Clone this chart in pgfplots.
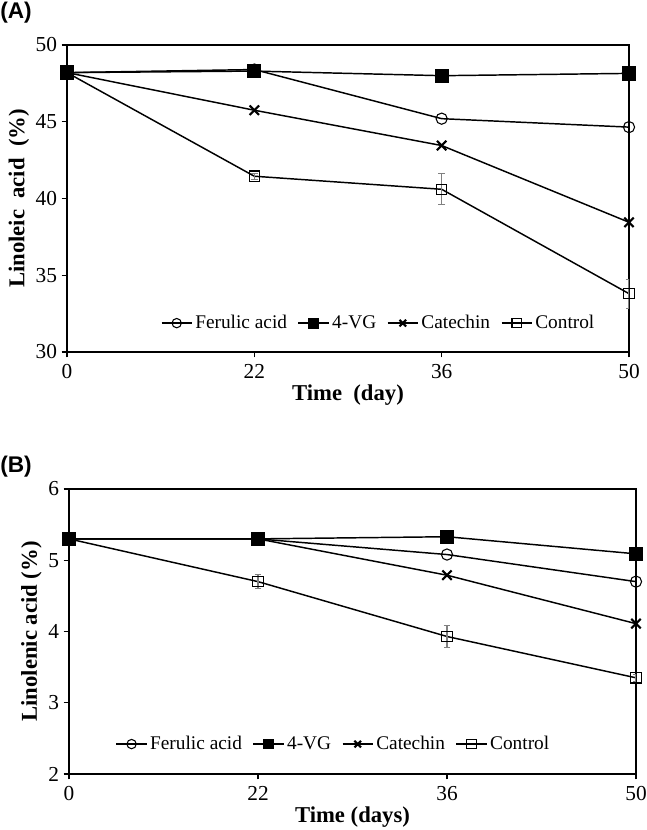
\documentclass[border=0pt]{standalone}
\usepackage{fontspec}
\setmainfont{Liberation Serif}
\newfontfamily\arialbf{Liberation Sans}[BoldFont=* Bold]
\usepackage{pgfplots}
\pgfplotsset{compat=1.18}

\pgfplotsset{
  panel/.style={
    scale only axis,
    axis line style={line width=1.1pt},
    xmin=0, xmax=3, xtick={0,1,2,3}, xticklabels={0,22,36,50},
    tick align=outside, tick pos=left,
    major tick length=4pt,
    tick style={line width=1pt, black},
    /pgf/number format/assume math mode=true,
    tick label style={font=\fontsize{16}{18}\selectfont},
    xticklabel style={yshift=-2pt},
    label style={font=\fontsize{17}{19}\selectfont\bfseries},
    xlabel style={yshift=2.5pt},
    ylabel style={yshift=-2pt},
    legend style={draw=none, fill=none, legend columns=4,
      font=\fontsize{14.5}{16}\selectfont,
      /tikz/every even column/.append style={column sep=6pt},
      inner sep=0pt},
    legend image code/.code={%
      \draw[mark repeat=2,mark phase=2, mark size=3.5pt] plot coordinates {(0cm,0cm)(0.4cm,0cm)(0.8cm,0cm)};},
    every axis plot/.append style={line width=1.1pt, black},
  },
  fer/.style={mark=o, mark size=4.2pt, mark options={fill=white, line width=0.8pt}},
  vg/.style={mark=square*, mark size=4.8pt, mark options={fill=black}},
  cat/.style={mark=x, mark size=5pt, mark options={line width=1.6pt}},
  ctl/.style={mark=square, mark size=3.9pt, mark options={fill=white, line width=0.8pt},
    error bars/.cd, y dir=both, y explicit,
    error bar style={gray, line width=0.8pt},
    error mark options={rotate=90, gray, mark size=2.5pt, line width=0.8pt}},
}

\begin{document}
\begin{tikzpicture}
\useasboundingbox (0,0) rectangle (484.5pt,622.5pt);

% panel A
\begin{axis}[panel,
  at={(50.25pt,358.5pt)}, anchor=south west,
  width=421.5pt, height=230.25pt,
  ymin=30, ymax=50, ytick={30,35,40,45,50},
  xlabel={Time\ \ (day)}, ylabel={Linoleic\ \ acid\ \ (\%)},
  legend style={at={(0.555,0.094)}, anchor=center},
]
\addplot[fer] coordinates {(0,48.2) (1,48.4) (2,45.2) (3,44.65)};
\addlegendentry{Ferulic acid}
\addplot[vg] coordinates {(0,48.2) (1,48.3) (2,48.0) (3,48.15)};
\addlegendentry{4-VG}
\addplot[cat] coordinates {(0,48.2) (1,45.75) (2,43.45) (3,38.45)};
\addlegendentry{Catechin}
\addplot[ctl] coordinates {(0,48.2) +- (0,0) (1,41.45) +- (0,0.2) (2,40.6) +- (0,1.0) (3,33.8) +- (0,0.95)};
\addlegendentry{Control}
\end{axis}
\node[font=\arialbf\bfseries\fontsize{17}{19}\selectfont, anchor=west, inner sep=0pt] at (0pt,613pt) {(A)};

% panel B
\begin{axis}[panel,
  at={(51.75pt,42pt)}, anchor=south west,
  width=425.25pt, height=213.75pt,
  ymin=2, ymax=6, ytick={2,3,4,5,6},
  xlabel={Time (days)}, ylabel={Linolenic acid (\%)},
  legend style={at={(0.467,0.105)}, anchor=center},
]
\addplot[fer] coordinates {(0,5.3) (1,5.3) (2,5.08) (3,4.70)};
\addlegendentry{Ferulic acid}
\addplot[vg] coordinates {(0,5.3) (1,5.3) (2,5.33) (3,5.09)};
\addlegendentry{4-VG}
\addplot[cat] coordinates {(0,5.3) (1,5.3) (2,4.79) (3,4.11)};
\addlegendentry{Catechin}
\addplot[ctl] coordinates {(0,5.3) +- (0,0) (1,4.70) +- (0,0.1) (2,3.93) +- (0,0.16) (3,3.35) +- (0,0.05)};
\addlegendentry{Control}
\end{axis}
\node[font=\arialbf\bfseries\fontsize{17}{19}\selectfont, anchor=west, inner sep=0pt] at (0pt,272.25pt) {(B)};
\end{tikzpicture}
\end{document}
